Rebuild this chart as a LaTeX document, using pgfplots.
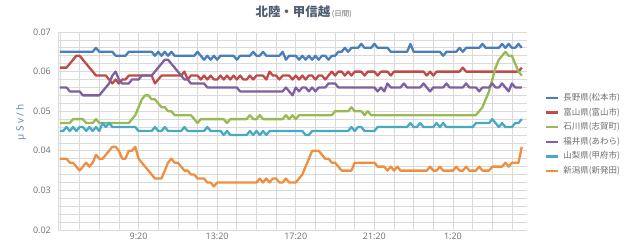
\documentclass[border=0pt]{standalone}
\usepackage{pgfplots}
\pgfplotsset{compat=1.18}
\usepackage{pgfplotstable}
\usepackage{fontspec}
\setmainfont{Open Sans}
\newfontfamily\cjk{Noto Sans CJK JP}
\newfontfamily\ylabfont{Open Sans}[LetterSpace=25]
\definecolor{cb}{HTML}{4A7EBB}
\definecolor{cr}{HTML}{BE4B48}
\definecolor{cg}{HTML}{98B954}
\definecolor{cp}{HTML}{7D60A0}
\definecolor{cc}{HTML}{46AAC5}
\definecolor{co}{HTML}{EE8E3E}
\definecolor{tickgray}{HTML}{6E6E6E}
\definecolor{titlecol}{HTML}{4E5D70}
\definecolor{ylabcol}{HTML}{5581B3}
\definecolor{gridcol}{HTML}{DADADA}
\pgfplotstableread{
t b r p g c o
0 .065 .061 .056 .047 .045 .038
1 .065 .061 .056 .047 .045 .038
2 .065 .061 .056 .047 .046 .038
3 .065 .062 .055 .047 .045 .037
4 .065 .063 .055 .048 .046 .037
5 .065 .064 .055 .048 .045 .036
6 .065 .064 .055 .048 .046 .035
7 .065 .063 .054 .048 .046 .036
8 .065 .062 .054 .047 .045 .037
9 .065 .061 .054 .047 .046 .036
10 .065 .060 .054 .047 .045 .037
11 .066 .059 .054 .048 .046 .039
12 .065 .059 .054 .047 .045 .038
13 .065 .059 .055 .047 .047 .038
14 .065 .059 .056 .047 .046 .039
15 .065 .058 .057 .047 .047 .040
16 .065 .057 .059 .047 .046 .041
17 .064 .058 .060 .047 .046 .041
18 .064 .057 .058 .047 .046 .040
19 .064 .058 .057 .047 .046 .038
20 .064 .058 .057 .047 .046 .038
21 .065 .059 .057 .047 .046 .040
22 .065 .059 .058 .048 .046 .040
23 .065 .059 .058 .049 .046 .041
24 .065 .059 .058 .051 .045 .038
25 .065 .059 .059 .053 .045 .037
26 .065 .059 .059 .054 .045 .036
27 .065 .059 .059 .054 .045 .035
28 .065 .059 .059 .053 .045 .034
29 .064 .057 .060 .053 .046 .033
30 .065 .058 .061 .052 .045 .033
31 .064 .059 .062 .051 .045 .033
32 .065 .059 .063 .051 .046 .035
33 .064 .059 .063 .050 .045 .037
34 .065 .059 .062 .050 .045 .038
35 .064 .059 .061 .049 .045 .037
36 .064 .059 .060 .049 .045 .037
37 .064 .059 .059 .049 .045 .036
38 .064 .060 .058 .049 .046 .035
39 .064 .058 .058 .049 .045 .035
40 .064 .059 .057 .049 .045 .034
41 .064 .059 .057 .048 .045 .034
42 .065 .059 .057 .047 .045 .033
43 .064 .058 .057 .048 .045 .033
44 .063 .059 .057 .048 .045 .033
45 .064 .058 .056 .048 .046 .032
46 .063 .059 .056 .048 .045 .032
47 .064 .058 .056 .048 .045 .031
48 .063 .058 .056 .048 .045 .032
49 .064 .059 .056 .048 .045 .032
50 .064 .058 .056 .048 .044 .032
51 .064 .059 .056 .047 .045 .032
52 .064 .058 .056 .048 .044 .032
53 .064 .059 .056 .048 .044 .032
54 .063 .058 .056 .048 .044 .032
55 .064 .059 .055 .048 .044 .032
56 .064 .058 .055 .048 .044 .032
57 .064 .058 .055 .048 .044 .032
58 .064 .059 .055 .049 .045 .032
59 .065 .058 .055 .048 .044 .032
60 .064 .059 .055 .048 .045 .032
61 .064 .059 .055 .049 .044 .033
62 .065 .059 .055 .048 .045 .032
63 .064 .058 .055 .048 .044 .033
64 .064 .060 .055 .048 .045 .032
65 .064 .059 .055 .048 .045 .033
66 .064 .059 .055 .048 .045 .033
67 .064 .058 .055 .048 .045 .032
68 .065 .059 .055 .048 .045 .032
69 .063 .059 .056 .049 .045 .033
70 .064 .059 .055 .048 .045 .032
71 .064 .058 .054 .049 .045 .032
72 .064 .059 .056 .048 .045 .032
73 .063 .058 .055 .049 .045 .033
74 .064 .059 .056 .049 .045 .034
75 .063 .058 .056 .049 .044 .036
76 .064 .059 .055 .049 .044 .038
77 .063 .059 .056 .049 .045 .040
78 .064 .058 .055 .049 .045 .040
79 .063 .059 .056 .049 .045 .040
80 .064 .059 .056 .049 .045 .039
81 .064 .058 .056 .049 .045 .038
82 .063 .059 .057 .049 .045 .038
83 .064 .060 .057 .049 .045 .037
84 .064 .059 .057 .050 .045 .037
85 .065 .060 .056 .050 .045 .036
86 .065 .060 .056 .050 .045 .035
87 .066 .059 .056 .050 .045 .035
88 .065 .060 .056 .050 .045 .035
89 .066 .059 .056 .051 .046 .035
90 .066 .060 .056 .050 .045 .037
91 .066 .060 .056 .050 .046 .037
92 .067 .060 .056 .050 .046 .037
93 .066 .059 .056 .049 .045 .037
94 .066 .060 .056 .050 .045 .037
95 .066 .060 .056 .049 .045 .037
96 .067 .060 .056 .049 .045 .037
97 .066 .059 .055 .049 .046 .036
98 .066 .060 .056 .049 .046 .036
99 .066 .060 .055 .049 .046 .036
100 .066 .060 .057 .049 .046 .035
101 .065 .059 .056 .049 .046 .036
102 .065 .060 .056 .049 .046 .035
103 .065 .060 .056 .049 .046 .036
104 .065 .060 .056 .049 .046 .035
105 .065 .060 .057 .049 .046 .035
106 .065 .060 .056 .049 .046 .035
107 .067 .060 .056 .049 .047 .035
108 .065 .060 .056 .049 .046 .035
109 .065 .060 .056 .049 .046 .035
110 .065 .060 .056 .049 .047 .035
111 .065 .060 .057 .049 .046 .035
112 .065 .059 .056 .049 .046 .035
113 .065 .060 .055 .049 .046 .036
114 .065 .059 .056 .049 .046 .035
115 .065 .060 .056 .049 .047 .035
116 .065 .060 .056 .049 .046 .036
117 .064 .060 .056 .049 .047 .035
118 .065 .060 .057 .049 .046 .035
119 .065 .060 .056 .049 .046 .035
120 .065 .060 .056 .049 .046 .035
121 .065 .060 .056 .049 .046 .036
122 .066 .060 .056 .049 .046 .035
123 .065 .061 .056 .049 .046 .035
124 .066 .060 .057 .049 .046 .036
125 .066 .060 .056 .049 .046 .035
126 .066 .060 .056 .049 .046 .035
127 .066 .060 .056 .049 .047 .035
128 .066 .060 .055 .050 .047 .036
129 .067 .060 .056 .051 .047 .035
130 .066 .060 .056 .053 .047 .035
131 .066 .060 .056 .055 .047 .035
132 .066 .060 .057 .058 .048 .036
133 .066 .060 .056 .061 .047 .036
134 .066 .060 .056 .063 .046 .036
135 .067 .060 .057 .064 .047 .036
136 .066 .060 .056 .065 .046 .037
137 .067 .060 .055 .064 .046 .036
138 .066 .060 .057 .064 .046 .037
139 .066 .060 .056 .062 .047 .037
140 .067 .060 .056 .060 .047 .037
141 .066 .061 .056 .059 .048 .041
}\data
\begin{document}
\begin{tikzpicture}
\useasboundingbox (0bp,0bp) rectangle (640bp,241bp);
\begin{axis}[
  at={(58bp,11bp)}, anchor=south west,
  scale only axis, width=469bp, height=198bp,
  xmin=-0.6, xmax=142.6, ymin=0.02, ymax=0.07,
  axis lines*=left,
  axis line style={draw=gridcol, line width=0.8bp},
  xtick={24,48,72,96,120},
  xticklabels={9:20,13:20,17:20,21:20,1:20},
  minor xtick={0,6,...,138},
  ytick={0.02,0.03,0.04,0.05,0.06,0.07},
  scaled y ticks=false,
  minor y tick num=4,
  grid=both,
  major grid style={draw=gridcol, line width=0.7bp},
  minor grid style={draw=gridcol, line width=0.7bp},
  major tick length=0pt, minor tick length=0pt,
  /pgf/number format/fixed,
  /pgf/number format/fixed zerofill,
  /pgf/number format/precision=2,
  /pgf/number format/assume math mode=true,
  tick label style={font=\fontsize{9}{10}\selectfont, text=tickgray},
  yticklabel style={inner sep=0pt, xshift=-7bp},
  xticklabel style={inner sep=0pt, yshift=-3bp},
  ylabel={μSv/h},
  ylabel style={at={(axis description cs:-0.079,0.545)}, anchor=center, font=\ylabfont\fontsize{10}{11}\selectfont, text=ylabcol},
  title={{\cjk\bfseries\fontsize{12.5}{13}\selectfont 北陸・甲信越}\,{\cjk\fontsize{7.5}{8}\selectfont\color{tickgray}(日間)}},
  title style={at={(axis description cs:0.524,1.07)}, anchor=center, text=titlecol},
  no markers,
  every axis plot/.append style={line width=2.3bp, line join=round},
  legend cell align=left,
  legend style={at={(axis description cs:1.038,0.482)}, anchor=west, draw=none, fill=none,
    font=\cjk\fontsize{8.5}{9}\selectfont, text=tickgray, inner sep=0pt, row sep=5.2bp,
    nodes={inner sep=0pt, text height=7.2bp, text depth=2.2bp},
    /tikz/every odd column/.append style={column sep=4bp}},
  legend image code/.code={\draw[#1, line width=2.4bp] (0bp,0bp) -- (12bp,0bp);},
]
\addplot[cb] table[x=t, y=b]{\data};
\addplot[cr] table[x=t, y=r]{\data};
\addplot[cg] table[x=t, y=g]{\data};
\addplot[cp] table[x=t, y=p]{\data};
\addplot[cc] table[x=t, y=c]{\data};
\addplot[co] table[x=t, y=o]{\data};
\legend{長野県(松本市),富山県(富山市),石川県(志賀町),福井県(あわら),山梨県(甲府市),新潟県(新発田)}
\end{axis}
\end{tikzpicture}
\end{document}
